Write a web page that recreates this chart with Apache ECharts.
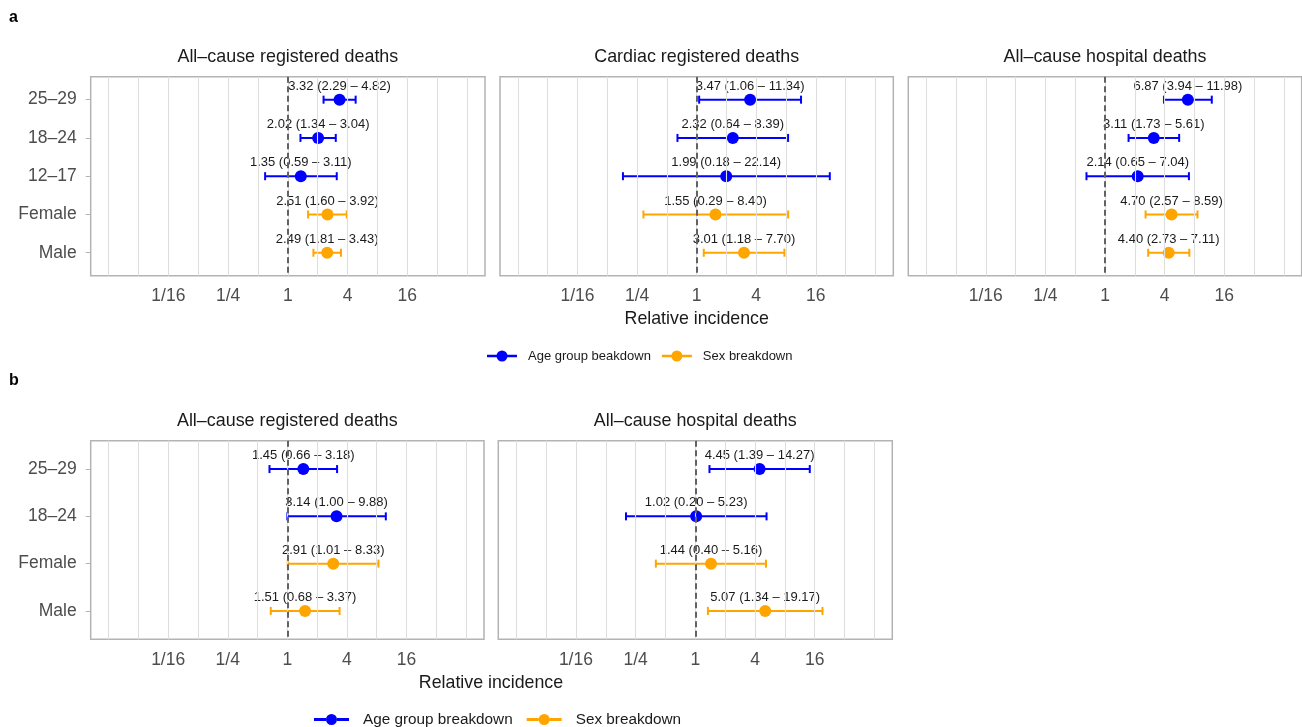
<!DOCTYPE html>
<html><head><meta charset="utf-8">
<script src="https://cdn.jsdelivr.net/npm/echarts@6/dist/echarts.min.js"></script>
<style>html,body{margin:0;padding:0;background:#fff}#c{width:1302px;height:727px}</style>
</head><body><div id="c"></div>
<script>
// ---------- data ----------
const catsTop = ['25–29', '18–24', '12–17', 'Female', 'Male'];
const groupsTop = ['age', 'age', 'age', 'sex', 'sex'];
const catsBottom = ['25–29', '18–24', 'Female', 'Male'];
const groupsBottom = ['age', 'age', 'sex', 'sex'];

// a: All-cause registered deaths
const a1Est = [3.32, 2.02, 1.35, 2.51, 2.49];
const a1Lo  = [2.29, 1.34, 0.59, 1.60, 1.81];
const a1Hi  = [4.82, 3.04, 3.11, 3.92, 3.43];
// a: Cardiac registered deaths
const a2Est = [3.47, 2.32, 1.99, 1.55, 3.01];
const a2Lo  = [1.06, 0.64, 0.18, 0.29, 1.18];
const a2Hi  = [11.34, 8.39, 22.14, 8.40, 7.70];
// a: All-cause hospital deaths
const a3Est = [6.87, 3.11, 2.14, 4.70, 4.40];
const a3Lo  = [3.94, 1.73, 0.65, 2.57, 2.73];
const a3Hi  = [11.98, 5.61, 7.04, 8.59, 7.11];
// b: All-cause registered deaths
const b1Est = [1.45, 3.14, 2.91, 1.51];
const b1Lo  = [0.66, 1.00, 1.01, 0.68];
const b1Hi  = [3.18, 9.88, 8.33, 3.37];
// b: All-cause hospital deaths
const b2Est = [4.45, 1.02, 1.44, 5.07];
const b2Lo  = [1.39, 0.20, 0.40, 1.34];
const b2Hi  = [14.27, 5.23, 5.16, 19.17];

const xTickValues = [1/16, 1/4, 1, 4, 16];
const xTickLabels = ['1/16', '1/4', '1', '4', '16'];
const gridBreaks = [1/64, 1/32, 1/16, 1/8, 1/4, 1/2, 1, 2, 4, 8, 16, 32, 64];
const refValue = 1;

const titleA1 = 'All–cause registered deaths';
const titleA2 = 'Cardiac registered deaths';
const titleA3 = 'All–cause hospital deaths';
const titleB1 = 'All–cause registered deaths';
const titleB2 = 'All–cause hospital deaths';
const xName = 'Relative incidence';
const ageNameTop = 'Age group beakdown';
const ageNameBottom = 'Age group breakdown';
const sexName = 'Sex breakdown';

// ---------- styling / layout ----------
const BLUE = '#0000FF', ORANGE = '#FFA500';
const FONT = "'Liberation Sans', Arial, Helvetica, sans-serif";
const AXIS_TXT = '#4d4d4d', BORDER = '#b3b3b3', GRIDC = '#dedede', INK = '#1a1a1a';
const XMIN = Math.pow(2, -6.6), XMAX = Math.pow(2, 6.6);

const panels = [
  {title: titleA1, cats: catsTop, groups: groupsTop, est: a1Est, lo: a1Lo, hi: a1Hi, age: ageNameTop, yLab: true, rect: {left: 90.7, top: 76.7, width: 394.3, height: 199}},
  {title: titleA2, cats: catsTop, groups: groupsTop, est: a2Est, lo: a2Lo, hi: a2Hi, age: ageNameTop, yLab: false, rect: {left: 500, top: 76.7, width: 393.3, height: 199}},
  {title: titleA3, cats: catsTop, groups: groupsTop, est: a3Est, lo: a3Lo, hi: a3Hi, age: ageNameTop, yLab: false, rect: {left: 908.3, top: 76.7, width: 393.4, height: 199}},
  {title: titleB1, cats: catsBottom, groups: groupsBottom, est: b1Est, lo: b1Lo, hi: b1Hi, age: ageNameBottom, yLab: true, rect: {left: 90.7, top: 440.7, width: 393.3, height: 198.6}},
  {title: titleB2, cats: catsBottom, groups: groupsBottom, est: b2Est, lo: b2Lo, hi: b2Hi, age: ageNameBottom, yLab: false, rect: {left: 498.3, top: 440.7, width: 394, height: 198.6}}
];

const fmt = v => v.toFixed(2);
const grids = [], xAxes = [], yAxes = [], series = [], graphics = [];

function errorRender(color) {
  return function (params, api) {
    const p0 = api.coord([api.value(0), api.value(2)]);
    const p1 = api.coord([api.value(1), api.value(2)]);
    const h = 4;
    const style = {stroke: color, lineWidth: 2, fill: null};
    return {type: 'group', children: [
      {type: 'line', shape: {x1: p0[0], y1: p0[1], x2: p1[0], y2: p1[1]}, style: style},
      {type: 'line', shape: {x1: p0[0], y1: p0[1] - h, x2: p0[0], y2: p0[1] + h}, style: style},
      {type: 'line', shape: {x1: p1[0], y1: p1[1] - h, x2: p1[0], y2: p1[1] + h}, style: style}
    ]};
  };
}

panels.forEach((p, i) => {
  const r = p.rect;
  grids.push({left: r.left, top: r.top, width: r.width, height: r.height, show: true,
    borderColor: BORDER, borderWidth: 1.5, backgroundColor: 'transparent', containLabel: false});
  xAxes.push({type: 'log', logBase: 2, gridIndex: i, min: XMIN, max: XMAX,
    axisLine: {show: false},
    axisTick: {show: true, customValues: xTickValues, length: 4, lineStyle: {color: BORDER, width: 1}},
    axisLabel: {customValues: xTickValues, margin: 11.5, fontSize: 17.5, color: AXIS_TXT, fontFamily: FONT,
      formatter: v => { const k = xTickValues.findIndex(t => Math.abs(Math.log2(t) - Math.log2(v)) < 1e-6); return k >= 0 ? xTickLabels[k] : ''; }},
    splitLine: {show: false}, minorSplitLine: {show: false}});
  const idx = p.cats.map((c, k) => k);
  yAxes.push({type: 'value', gridIndex: i, inverse: true, min: -0.6, max: p.cats.length - 0.4,
    axisLine: {show: false},
    axisTick: {show: p.yLab, customValues: idx, length: 5, lineStyle: {color: BORDER, width: 1}},
    axisLabel: {show: p.yLab, customValues: idx, margin: 14, fontSize: 17.5, color: AXIS_TXT, fontFamily: FONT,
      formatter: v => p.cats[Math.round(v)]},
    splitLine: {show: false}});

  // background gridlines + reference dashed line
  series.push({type: 'line', name: '_grid' + i, xAxisIndex: i, yAxisIndex: i, data: [], z: 1, silent: true,
    showSymbol: false,
    markLine: {silent: true, symbol: ['none', 'none'], label: {show: false}, animation: false, precision: 10,
      lineStyle: {color: GRIDC, width: 1.1, type: 'solid'},
      emphasis: {disabled: true},
      data: gridBreaks.map(v => ({xAxis: v})).concat([{xAxis: refValue, lineStyle: {color: '#626262', width: 2, type: [6, 3.5]}}])}});

  [['age', p.age, BLUE], ['sex', sexName, ORANGE]].forEach(([g, name, color]) => {
    const rows = p.cats.map((c, k) => k).filter(k => p.groups[k] === g);
    series.push({type: 'custom', name: name, xAxisIndex: i, yAxisIndex: i, z: 2, silent: true,
      itemStyle: {color: color},
      renderItem: errorRender(color),
      encode: {x: [0, 1], y: 2},
      data: rows.map(k => [p.lo[k], p.hi[k], k])});
    const labels = rows.map(k => fmt(p.est[k]) + ' (' + fmt(p.lo[k]) + ' – ' + fmt(p.hi[k]) + ')');
    series.push({type: 'scatter', name: name, xAxisIndex: i, yAxisIndex: i, z: 3, silent: true,
      symbol: 'circle', symbolSize: 12, itemStyle: {color: color, opacity: 1},
      label: {show: true, position: 'top', distance: 1, fontSize: 13, color: INK, fontFamily: FONT,
        formatter: q => labels[q.dataIndex]},
      data: rows.map(k => [p.est[k], k])});
  });

  graphics.push({type: 'text', x: r.left + r.width / 2, y: r.top - 19.5,
    style: {text: p.title, font: '17.9px ' + FONT, fill: INK, align: 'center', verticalAlign: 'middle'}});
});

graphics.push({type: 'text', x: 9, y: 18, style: {text: 'a', font: 'bold 16px ' + FONT, fill: '#000', align: 'left', verticalAlign: 'middle'}});
graphics.push({type: 'text', x: 9, y: 381, style: {text: 'b', font: 'bold 16px ' + FONT, fill: '#000', align: 'left', verticalAlign: 'middle'}});
graphics.push({type: 'text', x: 696.7, y: 319.5, style: {text: xName, font: '17.8px ' + FONT, fill: INK, align: 'center', verticalAlign: 'middle'}});
graphics.push({type: 'text', x: 491, y: 683.5, style: {text: xName, font: '17.8px ' + FONT, fill: INK, align: 'center', verticalAlign: 'middle'}});

const ICON = 'path://M0,4.2 L10,4.2 L10,6.8 L0,6.8 Z M20,4.2 L30,4.2 L30,6.8 L20,6.8 Z M9.5,5.5 A5.5,5.5 0 1,1 20.5,5.5 A5.5,5.5 0 1,1 9.5,5.5 Z';
const ICON_B = 'path://M0,4.5 L12,4.5 L12,7.5 L0,7.5 Z M23,4.5 L35,4.5 L35,7.5 L23,7.5 Z M12,6 A5.5,5.5 0 1,1 23,6 A5.5,5.5 0 1,1 12,6 Z';
function legend(left, top, ageName, icon, iw, ih, fs, gap, textPad) {
  return {left: left, top: top, orient: 'horizontal', itemWidth: iw, itemHeight: ih, itemGap: gap,
    selectedMode: false, padding: 0,
    textStyle: {fontSize: fs, color: INK, fontFamily: FONT, padding: [0, 0, 0, textPad]},
    data: [{name: ageName, icon: icon, itemStyle: {color: BLUE}},
           {name: sexName, icon: icon, itemStyle: {color: ORANGE}}]};
}

const chart = echarts.init(document.getElementById('c'), null, {renderer: 'canvas'});
chart.setOption({
  animation: false,
  backgroundColor: '#fff',
  textStyle: {fontFamily: FONT},
  grid: grids, xAxis: xAxes, yAxis: yAxes, series: series,
  legend: [legend(487, 349.5, ageNameTop, ICON, 30, 11, 13, 11, 6),
           legend(314, 712, ageNameBottom, ICON_B, 35, 12, 15.3, 14, 9)],
  graphic: graphics
});
</script></body></html>
